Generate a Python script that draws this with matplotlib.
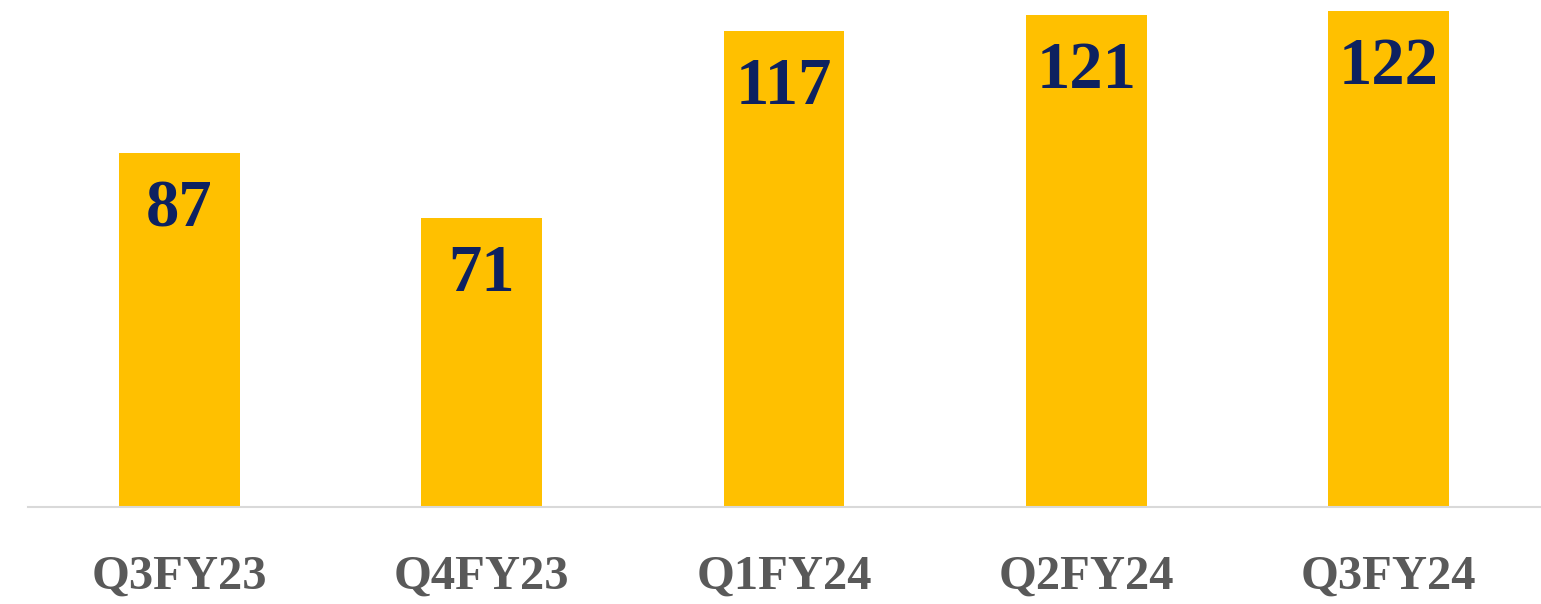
import matplotlib.pyplot as plt

quarters = ['Q3FY23', 'Q4FY23', 'Q1FY24', 'Q2FY24', 'Q3FY24']
values = [87, 71, 117, 121, 122]

bar_color = '#FFC000'
label_color = '#0D2160'
tick_color = '#595959'

fig = plt.figure(figsize=(15.41, 6.04), dpi=100)
ax = fig.add_axes([28 / 1541, 97 / 604, 1512 / 1541, 507 / 604])

x = range(len(quarters))
bars = ax.bar(x, values, width=0.4, color=bar_color, zorder=2)

ax.set_xlim(-0.5, len(quarters) - 0.5)
ax.set_ylim(0, 124.7)

# value labels inside the bars, near the top
for xi, v in zip(x, values):
    ax.annotate(str(v), (xi, v), xytext=(0, -26), textcoords='offset pixels',
                ha='center', va='top', fontsize=48, fontweight='bold',
                family='Liberation Serif', color=label_color)

ax.set_xticks(list(x))
ax.set_xticklabels(quarters, fontsize=35, fontweight='bold',
                   family='Liberation Serif', color=tick_color)
ax.tick_params(axis='x', length=0, pad=34)
ax.set_yticks([])

for side in ['top', 'right', 'left']:
    ax.spines[side].set_visible(False)
ax.spines['bottom'].set_color('#D9D9D9')
ax.spines['bottom'].set_linewidth(1.5)

fig.savefig('out.png', dpi=100)
